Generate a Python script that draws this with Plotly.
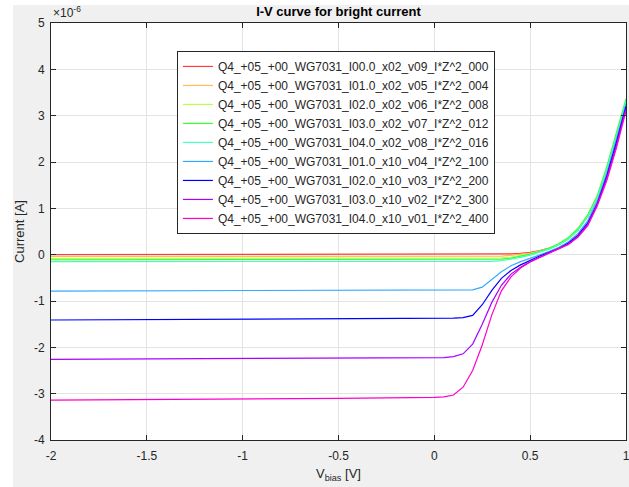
import plotly.graph_objects as go

# ---- data (current in micro-amps) ----
v_bias = [-2.0, -1.5, -1.0, -0.5, 0.0, 0.05, 0.1, 0.15, 0.2, 0.25, 0.3, 0.35, 0.4,
          0.45, 0.5, 0.55, 0.6, 0.65, 0.7, 0.75, 0.8, 0.85, 0.9, 0.95, 1.0]

names = [
    "Q4_+05_+00_WG7031_I00.0_x02_v09_I*Z^2_000",
    "Q4_+05_+00_WG7031_I01.0_x02_v05_I*Z^2_004",
    "Q4_+05_+00_WG7031_I02.0_x02_v06_I*Z^2_008",
    "Q4_+05_+00_WG7031_I03.0_x02_v07_I*Z^2_012",
    "Q4_+05_+00_WG7031_I04.0_x02_v08_I*Z^2_016",
    "Q4_+05_+00_WG7031_I01.0_x10_v04_I*Z^2_100",
    "Q4_+05_+00_WG7031_I02.0_x10_v03_I*Z^2_200",
    "Q4_+05_+00_WG7031_I03.0_x10_v02_I*Z^2_300",
    "Q4_+05_+00_WG7031_I04.0_x10_v01_I*Z^2_400",
]

colors = ["#ff3b3b", "#ffbb55", "#bbff44", "#33ff33", "#44ffbb",
          "#33aaff", "#0000ff", "#aa00ff", "#ff00cc"]

i_000 = [0.0, 0.0, 0.0, 0.0, 0.0, 0.0, 0.0, 0.0, 0.0, 0.0, 0.0, 0.005, 0.015,
         0.03, 0.05, 0.09, 0.14, 0.22, 0.34, 0.53, 0.82, 1.2, 1.83, 2.54, 3.28]
i_004 = [-0.04, -0.04, -0.04, -0.04, -0.04, -0.04, -0.04, -0.04, -0.04, -0.04, -0.038, -0.03, -0.015,
         0.005, 0.035, 0.08, 0.135, 0.22, 0.34, 0.54, 0.83, 1.22, 1.85, 2.57, 3.31]
i_008 = [-0.08, -0.08, -0.08, -0.08, -0.08, -0.08, -0.08, -0.08, -0.08, -0.08, -0.077, -0.068, -0.05,
         -0.02, 0.02, 0.07, 0.13, 0.22, 0.35, 0.55, 0.84, 1.24, 1.87, 2.6, 3.33]
i_012 = [-0.11, -0.11, -0.11, -0.11, -0.11, -0.11, -0.11, -0.11, -0.11, -0.11, -0.107, -0.097, -0.075,
         -0.04, 0.01, 0.07, 0.14, 0.24, 0.37, 0.57, 0.86, 1.27, 1.9, 2.63, 3.36]
i_016 = [-0.15, -0.15, -0.15, -0.15, -0.15, -0.15, -0.15, -0.15, -0.15, -0.15, -0.145, -0.13, -0.10,
         -0.06, -0.01, 0.05, 0.12, 0.21, 0.34, 0.53, 0.82, 1.22, 1.85, 2.56, 3.32]
i_100 = [-0.785, -0.78, -0.78, -0.775, -0.77, -0.77, -0.77, -0.77, -0.76, -0.70, -0.54, -0.37, -0.24,
         -0.15, -0.08, -0.01, 0.07, 0.16, 0.28, 0.46, 0.73, 1.15, 1.75, 2.48, 3.25]
i_200 = [-1.41, -1.40, -1.395, -1.39, -1.38, -1.38, -1.37, -1.36, -1.31, -1.08, -0.77, -0.51, -0.34,
         -0.22, -0.12, -0.03, 0.05, 0.14, 0.25, 0.42, 0.68, 1.10, 1.70, 2.42, 3.20]
i_300 = [-2.26, -2.25, -2.24, -2.23, -2.22, -2.22, -2.20, -2.14, -1.93, -1.50, -1.03, -0.66, -0.42,
         -0.27, -0.15, -0.05, 0.04, 0.13, 0.23, 0.40, 0.65, 1.08, 1.65, 2.36, 3.15]
i_400 = [-3.14, -3.13, -3.12, -3.10, -3.08, -3.07, -3.03, -2.86, -2.50, -1.95, -1.30, -0.78, -0.48,
         -0.29, -0.16, -0.06, 0.04, 0.13, 0.22, 0.38, 0.62, 1.05, 1.60, 2.30, 3.10]

series = [i_000, i_004, i_008, i_012, i_016, i_100, i_200, i_300, i_400]

y_ticks = [-4, -3, -2, -1, 0, 1, 2, 3, 4, 5]
x_ticks = [-2, -1.5, -1, -0.5, 0, 0.5, 1]
x_tick_labels = ["-2", "-1.5", "-1", "-0.5", "0", "0.5", "1"]

# ---- figure ----
fig = go.Figure()
for name, col, vals in zip(names, colors, series):
    fig.add_trace(go.Scatter(
        x=v_bias, y=[v * 1e-6 for v in vals], mode="lines", name=name,
        line=dict(color=col, width=1.2),
    ))

font_family = "Liberation Sans, Arial, sans-serif"
axis_common = dict(
    showline=True, linecolor="#262626", linewidth=1, mirror="ticks",
    ticks="inside", ticklen=5, tickcolor="#262626", tickwidth=1,
    showgrid=True, gridcolor="#e3e3e3", gridwidth=1, zeroline=False,
    tickfont=dict(family=font_family, size=12, color="#262626"),
    automargin=False, ticklabeloverflow="allow",
)

fig.update_layout(
    width=629, height=487,
    margin=dict(l=51, r=3, t=23, b=47),
    paper_bgcolor="#f0f0f0", plot_bgcolor="#ffffff",
    font=dict(family=font_family, color="#262626"),
    title=dict(text="<b>I-V curve for bright current</b>", x=0.5, xref="paper",
               xanchor="center", y=1 - 11 / 487, yanchor="middle",
               font=dict(family=font_family, size=13, color="#000000")),
    xaxis=dict(range=[-2, 1.0001], tickvals=x_ticks, ticktext=x_tick_labels,
               ticklabelstandoff=5,
               title=dict(text="V<sub>bias</sub> [V]", standoff=6,
                          font=dict(family=font_family, size=13, color="#262626")),
               **axis_common),
    yaxis=dict(range=[-4e-6, 5e-6], tickvals=[t * 1e-6 for t in y_ticks],
               ticktext=[str(t) for t in y_ticks], ticklabelstandoff=3,
               title=dict(text="Current [A]", standoff=6,
                          font=dict(family=font_family, size=13, color="#262626")),
               **axis_common),
    legend=dict(x=0.219, y=0.933, xanchor="left", yanchor="top",
                bgcolor="#ffffff", bordercolor="#262626", borderwidth=1,
                font=dict(family=font_family, size=12, color="#262626"),
                tracegroupgap=0),
    showlegend=True,
    shapes=[
        dict(type="rect", xref="paper", yref="paper", x0=-0.0887, x1=-0.0661,
             y0=-0.12, y1=1.06, fillcolor="#ffffff", line=dict(width=0), layer="below"),
        dict(type="rect", xref="paper", yref="paper", x0=-0.0887, x1=1.01,
             y0=1.0432, y1=1.06, fillcolor="#ffffff", line=dict(width=0), layer="below"),
    ],
    annotations=[
        dict(text="×10<sup>-6</sup>", xref="paper", yref="paper", x=0, y=1,
             xanchor="left", yanchor="bottom", showarrow=False, yshift=1,
             font=dict(family=font_family, size=12, color="#262626")),
    ],
)

fig.write_html("out.html", config={"displayModeBar": False},
               post_script="document.body.style.margin='0';document.body.style.padding='0';")
